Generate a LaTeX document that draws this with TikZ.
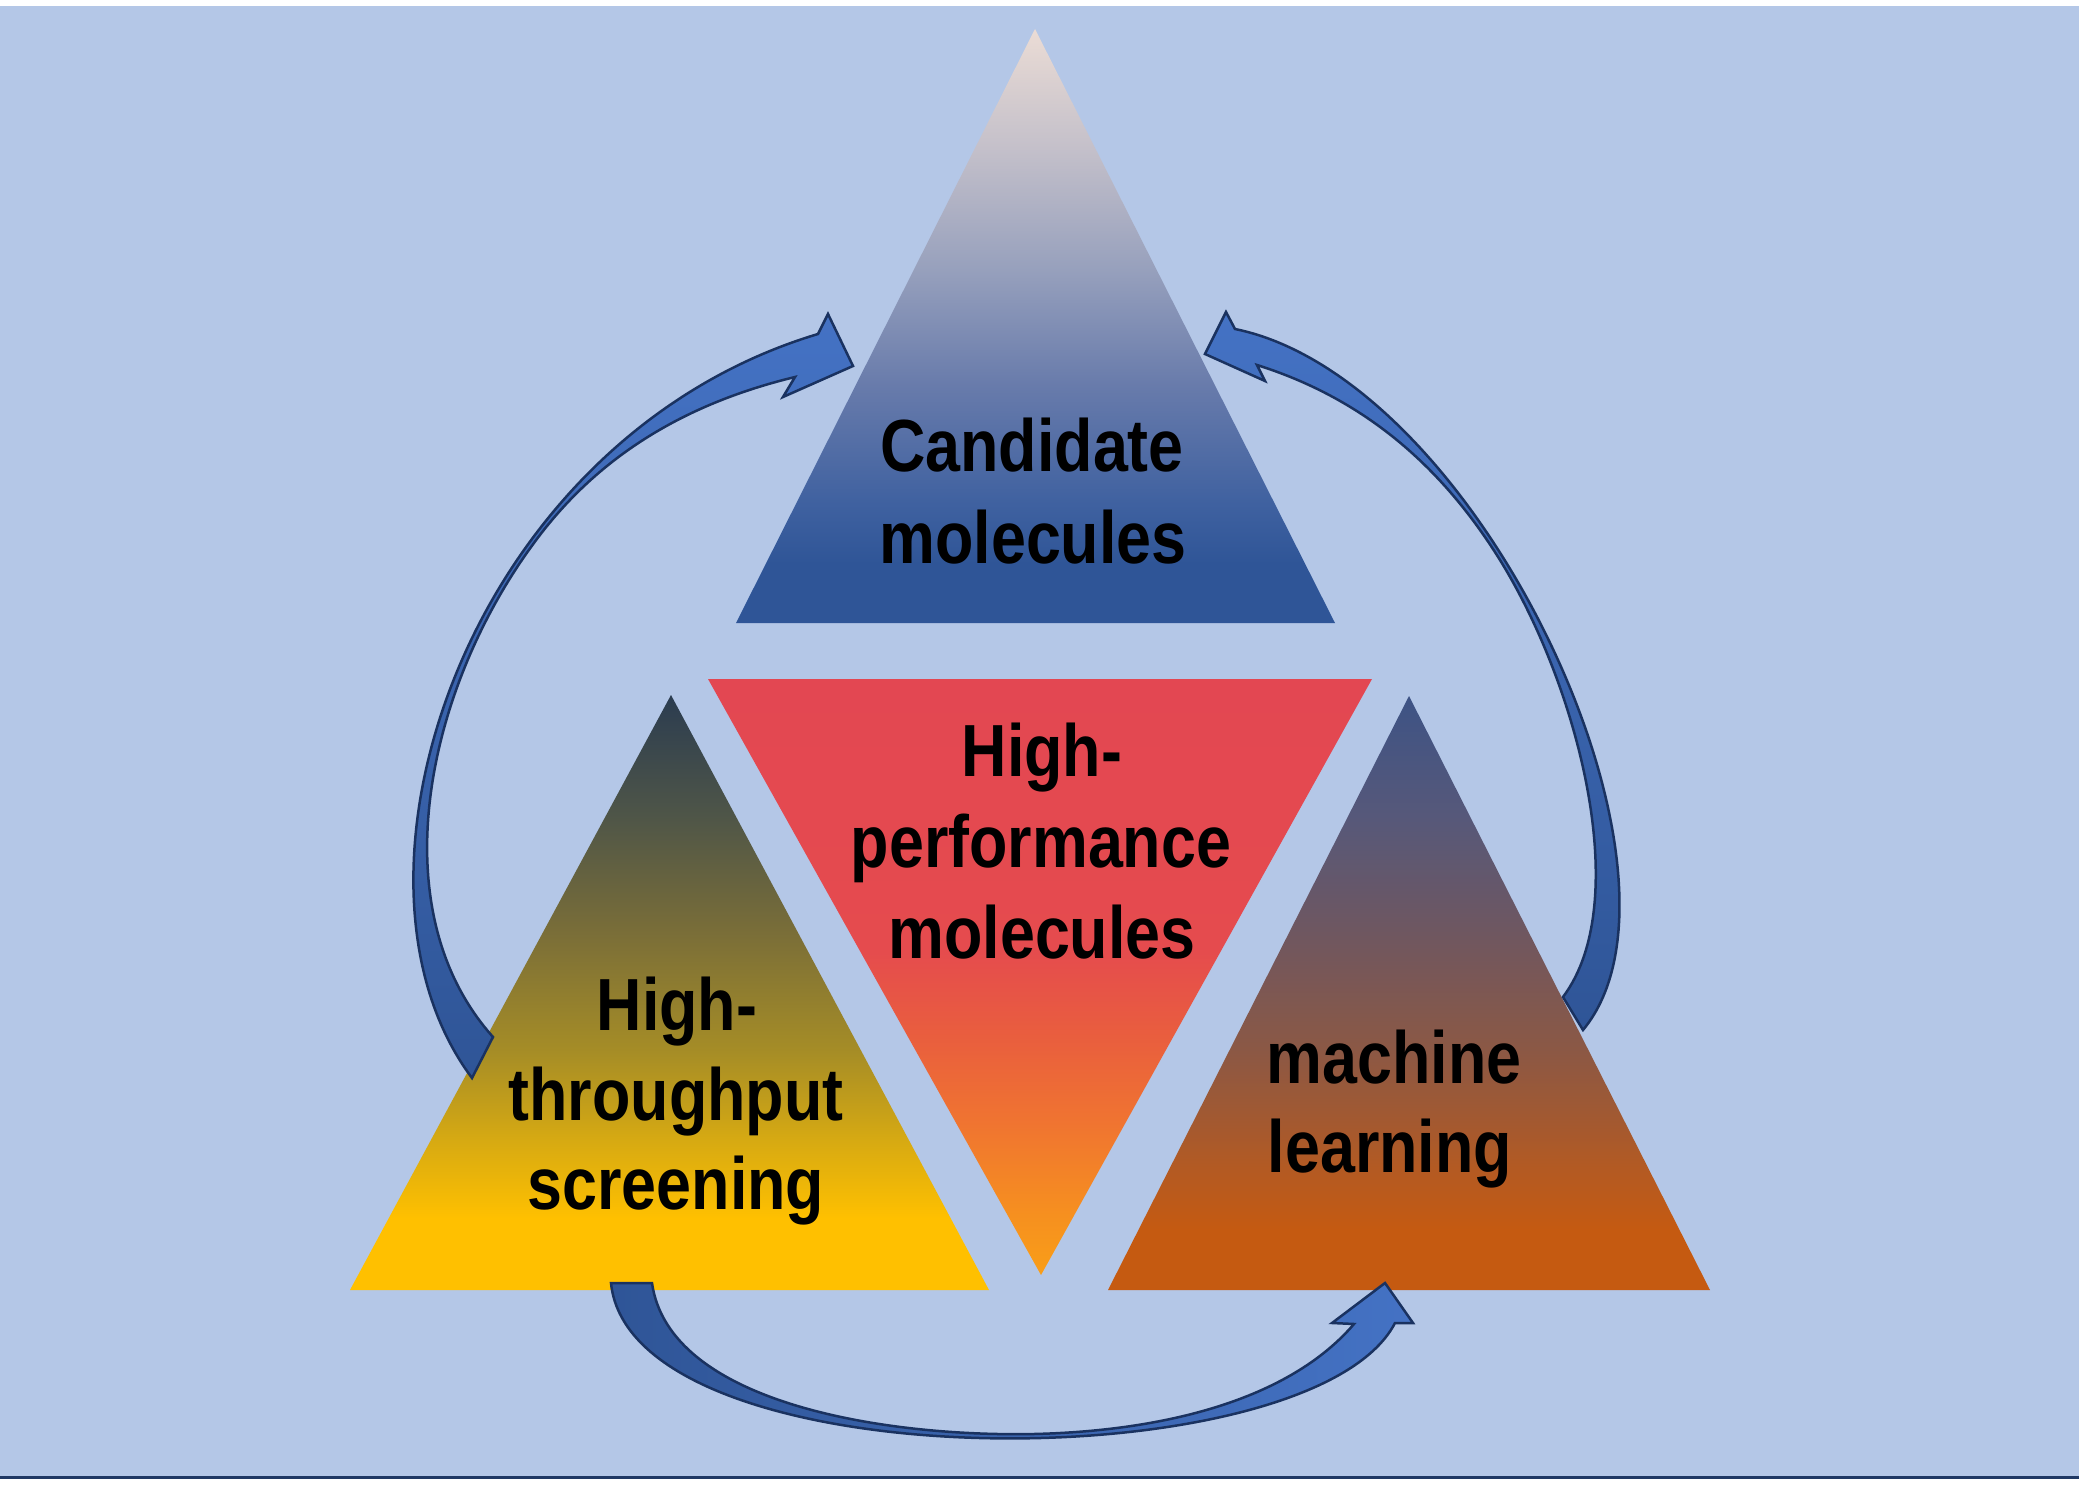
\documentclass[tikz,border=0pt]{standalone}
\usepackage{fontspec}
\newfontfamily\lblfont{Liberation Sans}[FakeStretch=0.85]
\definecolor{bgblue}{HTML}{B4C7E7}
\definecolor{frameline}{HTML}{1F3864}
\definecolor{arrowline}{HTML}{1A3260}
\definecolor{arrowdark}{HTML}{2F5597}
\definecolor{arrowlight}{HTML}{4472C4}
% top triangle
\definecolor{tA}{HTML}{2F5597}\definecolor{tB}{HTML}{3F61A0}\definecolor{tC}{HTML}{687BAB}
\definecolor{tD}{HTML}{98A1BD}\definecolor{tE}{HTML}{C4C0CA}\definecolor{tF}{HTML}{EBDCD5}
% centre triangle
\definecolor{cA}{HTML}{F99E18}\definecolor{cB}{HTML}{F6901F}\definecolor{cC}{HTML}{F07530}
\definecolor{cD}{HTML}{E95E3E}\definecolor{cE}{HTML}{E54B4E}\definecolor{cF}{HTML}{E34752}
% left triangle
\definecolor{lA}{HTML}{FFC000}\definecolor{lB}{HTML}{D7AA12}\definecolor{lC}{HTML}{A68D26}
\definecolor{lD}{HTML}{7A6E38}\definecolor{lE}{HTML}{4E5548}\definecolor{lF}{HTML}{2B3C50}
% right triangle
\definecolor{rA}{HTML}{C55A11}\definecolor{rB}{HTML}{B45A22}\definecolor{rC}{HTML}{8C5844}
\definecolor{rD}{HTML}{6F5760}\definecolor{rE}{HTML}{56587A}\definecolor{rF}{HTML}{3D5385}
\pgfdeclareverticalshading{candshade}{100bp}{color(0bp)=(tA); color(25bp)=(tA); color(30bp)=(tA); color(35bp)=(tB); color(45bp)=(tC); color(55bp)=(tD); color(65bp)=(tE); color(75bp)=(tF); color(100bp)=(tF)}
\pgfdeclareverticalshading{perfshade}{100bp}{color(0bp)=(cA); color(25bp)=(cA); color(30bp)=(cB); color(37.5bp)=(cC); color(45bp)=(cD); color(52.5bp)=(cE); color(75bp)=(cF); color(100bp)=(cF)}
\pgfdeclareverticalshading{htsshade}{100bp}{color(0bp)=(lA); color(25bp)=(lA); color(31bp)=(lA); color(37.5bp)=(lB); color(45bp)=(lC); color(55bp)=(lD); color(65bp)=(lE); color(75bp)=(lF); color(100bp)=(lF)}
\pgfdeclareverticalshading{mlshade}{100bp}{color(0bp)=(rA); color(25bp)=(rA); color(30bp)=(rA); color(35bp)=(rB); color(45bp)=(rC); color(55bp)=(rD); color(65bp)=(rE); color(75bp)=(rF); color(100bp)=(rF)}
\begin{document}
\begin{tikzpicture}[x=0.36pt,y=-0.36pt,
  lbl/.style={font=\lblfont\bfseries\fontsize{26.6pt}{32pt}\selectfont, text=black, inner sep=0pt, anchor=base},
  blockarrow/.style={draw=arrowline, line width=0.9pt, line join=miter}]
\useasboundingbox (0,0) rectangle (2079,1488);
% background
\fill[white] (0,0) rectangle (2079,1488);
\fill[bgblue] (0,6) rectangle (2079,1476);
\draw[frameline, line width=1.1pt] (0,1477.5) -- (2079,1477.5);

% triangles
\shade[shading=candshade] (1035,29) -- (1335,623) -- (736,623) -- cycle;
\shade[shading=perfshade] (708,679) -- (1372,679) -- (1041,1275) -- cycle;
\shade[shading=htsshade] (671,695) -- (989,1290) -- (350,1290) -- cycle;
\shade[shading=mlshade] (1409,696) -- (1710,1290) -- (1108,1290) -- cycle;

% left curved arrow (screening -> candidates)
\path[blockarrow, top color=arrowlight, bottom color=arrowdark]
  (472,1078) .. controls (322,878) and (468,439) .. (818,334)
  -- (828,314) -- (853,366) -- (783,397) -- (795,377)
  .. controls (675,406) and (591,464) .. (532.5,545)
  .. controls (426.5,690) and (379,909.5) .. (493,1037)
  -- cycle;

% right curved arrow (machine learning -> candidates)
\path[blockarrow, top color=arrowlight, bottom color=arrowdark]
  (1583,1030) .. controls (1711,876) and (1480,379) .. (1235,329)
  -- (1226,312) -- (1205,354) -- (1265,381) -- (1257,365)
  .. controls (1352,395) and (1432.6,453.8) .. (1496.9,555.1)
  .. controls (1577.3,681.7) and (1635,901) .. (1563,997)
  -- cycle;

% bottom curved arrow (screening -> machine learning)
\path[blockarrow, left color=arrowdark, right color=arrowlight]
  (611,1283) .. controls (631,1483) and (1312,1483) .. (1395,1323)
  -- (1413,1323) -- (1385,1283) -- (1332,1323) -- (1354,1324)
  .. controls (1289,1400) and (1164,1431) .. (1034,1434)
  .. controls (884,1437) and (668.8,1403) .. (652,1283)
  -- cycle;

% labels
\node[lbl] (cand1) at (1032,471) {Candidate};
\node[lbl] (cand2) at (1033,563) {molecules};
\node[lbl] (hp1) at (1042,776) {High-};
\node[lbl] (hp2) at (1041,867) {performance};
\node[lbl] (hp3) at (1042,958) {molecules};
\node[lbl] (ht1) at (677,1030) {High-};
\node[lbl] (ht2) at (676,1120) {throughput};
\node[lbl] (ht3) at (676,1209) {screening};
\node[lbl] (ml1) at (1394,1083) {machine};
\node[lbl] (ml2) at (1390,1172) {learning};
\end{tikzpicture}
\end{document}
